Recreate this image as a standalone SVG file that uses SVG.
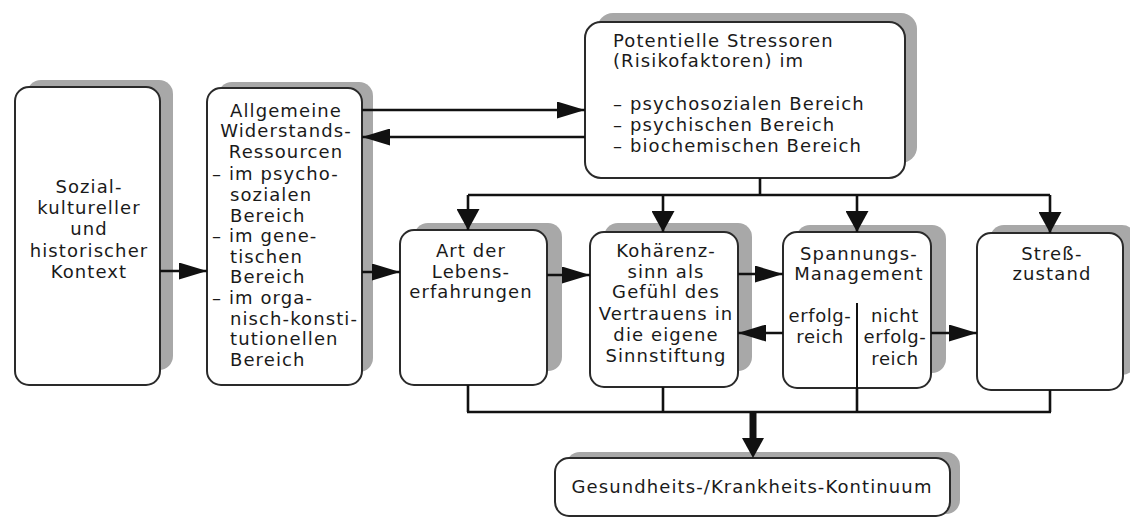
<svg xmlns="http://www.w3.org/2000/svg" width="1130" height="519" viewBox="0 0 1130 519">
<style>
.bg{fill:#fff}
.sh{fill:#a8a8a8}
.bx{fill:#fff;stroke:#2a2a2a;stroke-width:2}
text{font-family:"DejaVu Sans","Liberation Sans",Arial,sans-serif;font-size:18px;letter-spacing:1.1px;fill:#1a1a1a}
.c{text-anchor:middle}
.t{letter-spacing:0.6px}
.ln{fill:none;stroke:#111;stroke-width:2.6}
</style>
<defs>
<marker id="ah" markerUnits="userSpaceOnUse" markerWidth="28" markerHeight="17" refX="28" refY="8.5" orient="auto"><path d="M0,0 L28,8.5 L0,17 z" fill="#111"/></marker>
<marker id="av" markerUnits="userSpaceOnUse" markerWidth="21" markerHeight="23" refX="21" refY="11.5" orient="auto"><path d="M0,0 L21,11.5 L0,23 z" fill="#111"/></marker>
</defs>
<rect class="bg" x="0" y="0" width="1130" height="519"/>

<g id="n1">
<rect class="sh" x="27" y="80" width="146" height="290" rx="14"/>
<rect class="bx" x="15" y="87" width="145" height="298" rx="14"/>
<text class="c" x="89" y="193">Sozial-</text>
<text class="c" x="89" y="214">kultureller</text>
<text class="c" x="89" y="235">und</text>
<text class="c" x="89" y="257">historischer</text>
<text class="c" x="89" y="278">Kontext</text>
</g>

<g id="n2">
<rect class="sh" x="218" y="82" width="155" height="290" rx="14"/>
<rect class="bx" x="207" y="88" width="155" height="297" rx="14"/>
<text class="c" x="286" y="117">Allgemeine</text>
<text class="c" x="286" y="137">Widerstands-</text>
<text class="c" x="286" y="158">Ressourcen</text>
<text x="212" y="180">– im psycho-</text>
<text x="230" y="201">sozialen</text>
<text x="230" y="222">Bereich</text>
<text x="212" y="242">– im gene-</text>
<text x="230" y="263">tischen</text>
<text x="230" y="283">Bereich</text>
<text x="212" y="304">– im orga-</text>
<text x="230" y="325">nisch-konsti-</text>
<text x="230" y="345">tutionellen</text>
<text x="230" y="366">Bereich</text>
</g>

<g id="n3">
<rect class="sh" x="597" y="13" width="320" height="150" rx="16"/>
<rect class="bx" x="585" y="22" width="320" height="156" rx="16"/>
<text x="613" y="47">Potentielle Stressoren</text>
<text x="613" y="67">(Risikofaktoren) im</text>
<text x="613" y="110">– psychosozialen Bereich</text>
<text x="613" y="131">– psychischen Bereich</text>
<text x="613" y="152">– biochemischen Bereich</text>
</g>

<g id="n4">
<rect class="sh" x="414" y="223" width="148" height="148" rx="14"/>
<rect class="bx" x="400" y="230" width="147" height="155" rx="14"/>
<text class="c" x="471" y="257">Art der</text>
<text class="c" x="471" y="278">Lebens-</text>
<text class="c" x="471" y="298">erfahrungen</text>
</g>

<g id="n5">
<rect class="sh" x="604" y="223" width="148" height="148" rx="14"/>
<rect class="bx" x="590" y="232" width="148" height="155" rx="14"/>
<text class="c" x="666" y="257">Kohärenz-</text>
<text class="c" x="666" y="278">sinn als</text>
<text class="c" x="666" y="298">Gefühl des</text>
<text class="c" x="666" y="320">Vertrauens in</text>
<text class="c" x="666" y="341">die eigene</text>
<text class="c" x="666" y="362">Sinnstiftung</text>
</g>

<g id="n6">
<rect class="sh" x="796" y="225" width="150" height="148" rx="14"/>
<rect class="bx" x="783" y="232" width="148" height="156" rx="14"/>
<text class="c" x="859" y="260">Spannungs-</text>
<text class="c" x="859" y="280">Management</text>
<line x1="857" y1="303" x2="857" y2="388" stroke="#111" stroke-width="2"/>
<text class="c t" x="820" y="322">erfolg-</text>
<text class="c t" x="820" y="343">reich</text>
<text class="c t" x="895" y="322">nicht</text>
<text class="c t" x="895" y="343">erfolg-</text>
<text class="c t" x="895" y="365">reich</text>
</g>

<g id="n7">
<rect class="sh" x="990" y="225" width="146" height="150" rx="14"/>
<rect class="bx" x="977" y="233" width="146" height="157" rx="14"/>
<text class="c" x="1052" y="260">Streß-</text>
<text class="c" x="1052" y="280">zustand</text>
</g>

<g id="n8">
<rect class="sh" x="566" y="452" width="394" height="62" rx="14"/>
<rect class="bx" x="555" y="458" width="395" height="58" rx="14"/>
<text class="c" x="752" y="493">Gesundheits-/Krankheits-Kontinuum</text>
</g>

<g id="connectors">
<line class="ln" x1="160" y1="271" x2="207" y2="271" marker-end="url(#ah)"/>
<line class="ln" x1="362" y1="110" x2="585" y2="110" marker-end="url(#ah)"/>
<line class="ln" x1="585" y1="137" x2="362" y2="137" marker-end="url(#ah)"/>
<line class="ln" x1="362" y1="272" x2="400" y2="272" marker-end="url(#ah)"/>
<line class="ln" x1="547" y1="275" x2="590" y2="275" marker-end="url(#ah)"/>
<line class="ln" x1="738" y1="274" x2="783" y2="274" marker-end="url(#ah)"/>
<line class="ln" x1="783" y1="333" x2="738" y2="333" marker-end="url(#ah)"/>
<line class="ln" x1="931" y1="333" x2="977" y2="333" marker-end="url(#ah)"/>
<line class="ln" x1="760" y1="178" x2="760" y2="195"/>
<line class="ln" x1="468" y1="195" x2="1050" y2="195"/>
<line class="ln" x1="468" y1="195" x2="468" y2="230" marker-end="url(#av)"/>
<line class="ln" x1="663" y1="195" x2="663" y2="232" marker-end="url(#av)"/>
<line class="ln" x1="857" y1="195" x2="857" y2="232" marker-end="url(#av)"/>
<line class="ln" x1="1050" y1="195" x2="1050" y2="233" marker-end="url(#av)"/>
<line class="ln" x1="468" y1="385" x2="468" y2="412"/>
<line class="ln" x1="663" y1="387" x2="663" y2="412"/>
<line class="ln" x1="857" y1="388" x2="857" y2="412"/>
<line class="ln" x1="1050" y1="390" x2="1050" y2="412"/>
<line class="ln" x1="467" y1="412" x2="1051" y2="412"/>
<line x1="753" y1="412" x2="753" y2="442" stroke="#111" stroke-width="7"/>
<path d="M742,438 L764,438 L753,458 z" fill="#111"/>
</g>
</svg>
